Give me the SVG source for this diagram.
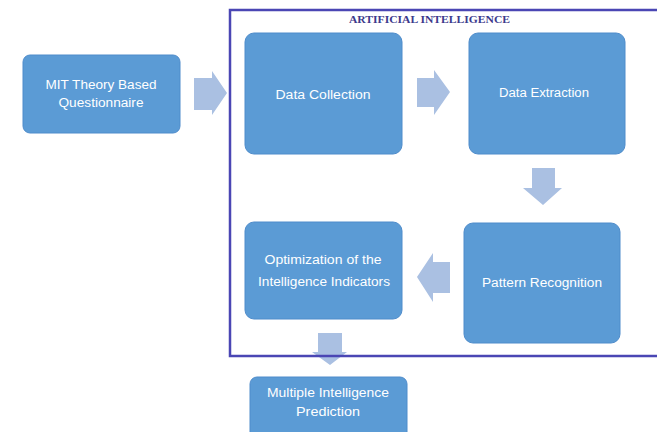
<svg xmlns="http://www.w3.org/2000/svg" width="657" height="432" viewBox="0 0 657 432">
<style>
.box{fill:#5b9bd5;stroke:#4f8ccb;stroke-width:1}
.t{font-family:"Liberation Sans",Arial,sans-serif;font-size:12px;fill:#ffffff;text-anchor:middle}
.arr{fill:#aac0e2}
.title{font-family:"Liberation Serif","Times New Roman",serif;font-size:11px;font-weight:bold;fill:#3c3a8c}
</style>
<rect width="657" height="432" fill="#ffffff"/>
<g id="connectors">
<polygon class="arr" points="194,78 212,78 212,71 227,93 212,115 212,110 194,110"/>
<polygon class="arr" points="417,78 434,78 434,70 450,92 434,115 434,107 417,107"/>
<polygon class="arr" points="532,168 555,168 555,188 562,188 543,205 523,188 532,188"/>
<polygon class="arr" points="450,262 450,293 433,293 433,302 417,277 433,253 433,262"/>
<polygon class="arr" points="318,333 342,333 342,352 347,352 330,365 312,352 318,352"/>
</g>
<g id="frame">
<rect x="230" y="10" width="440" height="346" fill="none" stroke="#4a46b4" stroke-width="2.5"/>
<text class="title" x="349" y="23" textLength="161" lengthAdjust="spacingAndGlyphs">ARTIFICIAL INTELLIGENCE</text>
</g>
<g id="mit">
<rect class="box" x="23" y="55" width="157" height="78" rx="7"/>
<text class="t" x="101" y="89" textLength="111" lengthAdjust="spacingAndGlyphs">MIT Theory Based</text>
<text class="t" x="101" y="107" textLength="85" lengthAdjust="spacingAndGlyphs">Questionnaire</text>
</g>
<g id="data-collection">
<rect class="box" x="245" y="33" width="157" height="121" rx="9"/>
<text class="t" x="323" y="99" textLength="95" lengthAdjust="spacingAndGlyphs">Data Collection</text>
</g>
<g id="data-extraction">
<rect class="box" x="469" y="33" width="156" height="121" rx="9"/>
<text class="t" x="544" y="97" textLength="90" lengthAdjust="spacingAndGlyphs">Data Extraction</text>
</g>
<g id="pattern-recognition">
<rect class="box" x="464" y="223" width="156" height="120" rx="9"/>
<text class="t" x="542" y="287" textLength="120" lengthAdjust="spacingAndGlyphs">Pattern Recognition</text>
</g>
<g id="optimization">
<rect class="box" x="245" y="222" width="157" height="97" rx="9"/>
<text class="t" x="323" y="264" textLength="117" lengthAdjust="spacingAndGlyphs">Optimization of the</text>
<text class="t" x="324" y="286" textLength="132" lengthAdjust="spacingAndGlyphs">Intelligence Indicators</text>
</g>
<g id="prediction">
<rect class="box" x="250" y="377" width="157" height="62" rx="7"/>
<text class="t" x="328" y="397" textLength="122" lengthAdjust="spacingAndGlyphs">Multiple Intelligence</text>
<text class="t" x="328" y="416" textLength="64" lengthAdjust="spacingAndGlyphs">Prediction</text>
</g>
</svg>
